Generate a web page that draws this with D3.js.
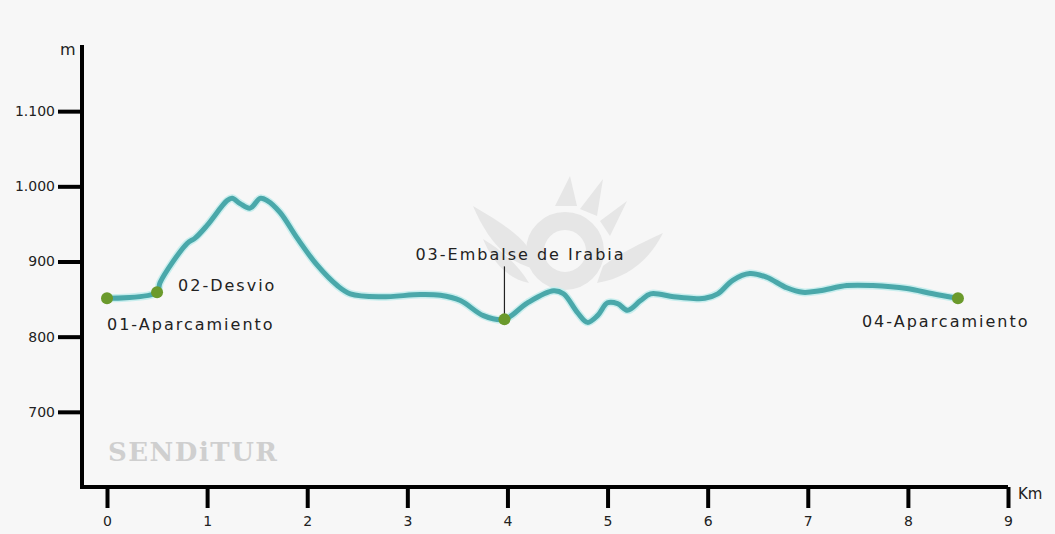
<!DOCTYPE html>
<html>
<head>
<meta charset="utf-8">
<script src="https://cdn.jsdelivr.net/npm/d3@7"></script>
<style>
  html, body { margin: 0; padding: 0; background: #f7f7f7; }
  svg { display: block; }
  text { font-family: "DejaVu Sans", sans-serif; fill: #222; }
</style>
</head>
<body>
<div id="chart"></div>
<script>
// elevation profile (km, m)
var distance = [0, 0.5, 0.53, 0.8, 0.88, 1.0, 1.2, 1.25, 1.33, 1.43, 1.53, 1.6, 1.73, 1.9, 2.1, 2.3, 2.43,
	2.73, 3.13, 3.33, 3.53, 3.76, 3.97, 4.2, 4.46, 4.56, 4.7, 4.8, 4.9, 5.0, 5.1, 5.2, 5.33, 5.43,
	5.66, 5.83, 5.97, 6.1, 6.25, 6.42, 6.59, 6.79, 6.95, 7.12, 7.39, 7.65, 7.99, 8.25, 8.5];
var elevation = [851, 859, 872, 924, 931, 948, 981, 984, 977, 971, 984, 981, 965, 931, 895, 868, 857,
	853, 856, 855, 848, 828, 823, 845, 861, 857, 832, 819, 828, 845, 844, 835, 848, 857,
	853, 851, 851, 857, 875, 884, 879, 865, 859, 861, 868, 868, 864, 857, 851];

var waypointNames = ["01-Aparcamiento", "02-Desvio", "03-Embalse de Irabia", "04-Aparcamiento"];
var waypointKm = [0, 0.5, 3.97, 8.5];
var waypointElev = [851, 859, 823, 851];

var xTicks = [0, 1, 2, 3, 4, 5, 6, 7, 8, 9];
var yTicks = [700, 800, 900, 1000, 1100];

var width = 1055, height = 534;
var axisX = 82, axisY = 487;

var x = d3.scaleLinear().domain([0, 9]).range([107, 1008]);
var y = d3.scaleLinear().domain([600, 1188]).range([axisY, 45]);

var locale = d3.formatLocale({decimal: ",", thousands: ".", grouping: [3], currency: ["", "€"]});
var fmt = locale.format(",d");

var svg = d3.select("#chart").append("svg")
	.attr("width", width)
	.attr("height", height);

// watermark logo
var logo = svg.append("g").attr("fill", "#e6e6e6").attr("transform", "translate(565,251)");
logo.append("path").attr("d", "M-92,-45 C-70,-32 -50,-20 -38,-5 L-30,18 C-58,12 -78,-12 -92,-45 Z");
logo.append("path").attr("d", "M-82,-12 C-62,0 -46,15 -36,32 C-58,27 -72,12 -82,-12 Z");
logo.append("path").attr("d", "M98,-18 C72,-6 52,4 38,15 L32,32 C62,27 84,10 98,-18 Z");
logo.append("path").attr("d", "M-10,-45 L5,-75 L12,-45 Z M15,-42 L38,-72 L32,-35 Z M35,-30 L62,-50 L45,-15 Z");
logo.append("circle").attr("r", 30).attr("fill", "none").attr("stroke", "#e6e6e6").attr("stroke-width", 18);

svg.append("text")
	.attr("x", 108).attr("y", 461)
	.style("font-family", "'DejaVu Serif', serif")
	.style("font-weight", "bold")
	.style("font-size", "26px")
	.style("letter-spacing", "1.5px")
	.style("fill", "#cfcfcf")
	.text("SENDiTUR");

// axes
var yAxis = svg.append("g")
	.attr("transform", "translate(" + axisX + ",0)")
	.call(d3.axisLeft(y).tickValues(yTicks).tickSize(24).tickPadding(3).tickFormat(fmt));
yAxis.select(".domain").remove();
yAxis.selectAll(".tick line").attr("stroke", "#000").attr("stroke-width", 4);
yAxis.selectAll(".tick text").style("font-size", "14px").style("font-family", "'DejaVu Sans', sans-serif").attr("fill", "#222");

var xAxis = svg.append("g")
	.attr("transform", "translate(0," + axisY + ")")
	.call(d3.axisBottom(x).tickValues(xTicks).tickSize(21).tickPadding(8));
xAxis.select(".domain").remove();
xAxis.selectAll(".tick line").attr("stroke", "#000").attr("stroke-width", 4);
xAxis.selectAll(".tick text").style("font-size", "14px").style("font-family", "'DejaVu Sans', sans-serif").attr("fill", "#222");

svg.append("path")
	.attr("d", "M" + axisX + "," + y.range()[1] + "V" + axisY + "H" + x.range()[1])
	.attr("fill", "none")
	.attr("stroke", "#000")
	.attr("stroke-width", 4);

svg.append("text").attr("x", 60).attr("y", 55).style("font-size", "16px").text("m");
svg.append("text").attr("x", 1018).attr("y", 499).style("font-size", "15px").text("Km");

// profile line
var profile = distance.map(function(d, i) { return [d, elevation[i]]; });
var line = d3.line()
	.x(function(d) { return x(d[0]); })
	.y(function(d) { return y(d[1]); })
	.curve(d3.curveCatmullRom);

svg.append("path")
	.datum(profile)
	.attr("d", line)
	.attr("fill", "none")
	.attr("stroke", "#c9eeee")
	.attr("stroke-width", 8)
	.attr("stroke-linejoin", "round");
svg.append("path")
	.datum(profile)
	.attr("d", line)
	.attr("fill", "none")
	.attr("stroke", "#4aa8aa")
	.attr("stroke-width", 5)
	.attr("stroke-linejoin", "round")
	.attr("stroke-linecap", "round");

// waypoints
var labelDx = [0, 21, -89, -96];
var labelDy = [32, -1, -59, 29];
var wp = waypointNames.map(function(n, i) { return {name: n, km: waypointKm[i], elev: waypointElev[i]}; });

svg.append("line")
	.attr("x1", x(wp[2].km)).attr("x2", x(wp[2].km))
	.attr("y1", y(wp[2].elev)).attr("y2", y(wp[2].elev) - 53)
	.attr("stroke", "#222").attr("stroke-width", 1.2);

svg.selectAll(".wp")
	.data(wp)
	.enter().append("circle")
	.attr("class", "wp")
	.attr("cx", function(d) { return x(d.km); })
	.attr("cy", function(d) { return y(d.elev); })
	.attr("r", 6)
	.attr("fill", "#6b9a2c");

svg.selectAll(".wplabel")
	.data(wp)
	.enter().append("text")
	.attr("class", "wplabel")
	.attr("x", function(d, i) { return x(d.km) + labelDx[i]; })
	.attr("y", function(d, i) { return y(d.elev) + labelDy[i]; })
	.style("font-size", "16px")
	.style("letter-spacing", "2px")
	.text(function(d) { return d.name; });
</script>
</body>
</html>
